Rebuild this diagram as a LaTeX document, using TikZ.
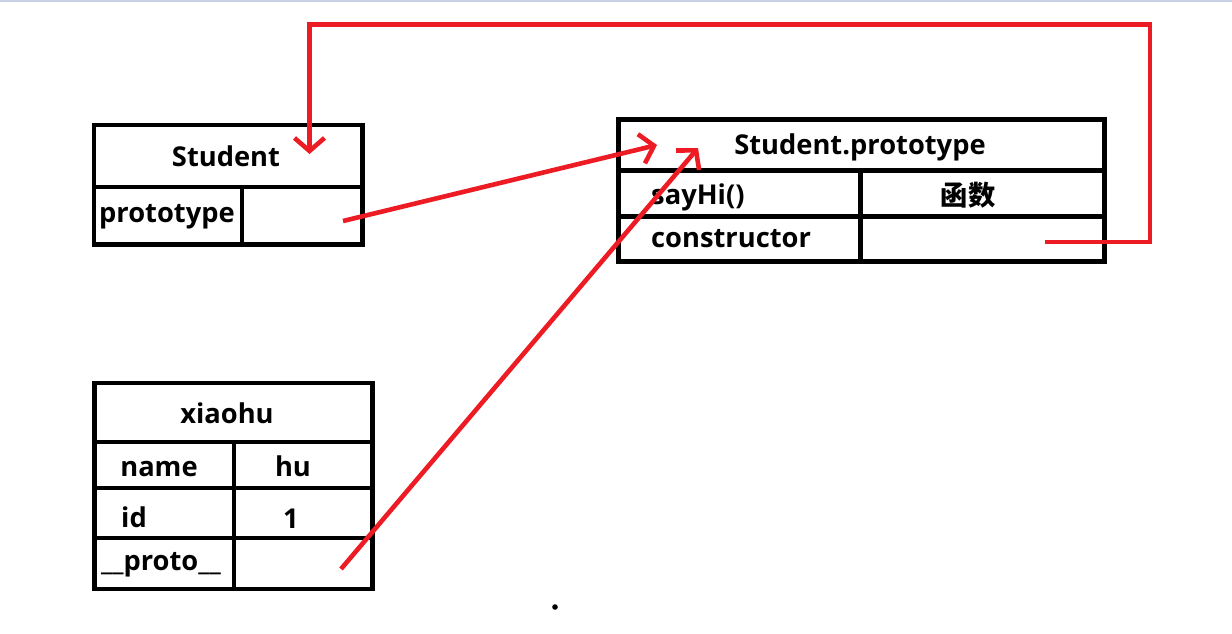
\documentclass[tikz,border=0pt]{standalone}
\usepackage{fontspec}
\setmainfont{Open Sans}
\newfontfamily\cjk{Noto Sans CJK SC}
\usetikzlibrary{arrows.meta}

\definecolor{paintred}{RGB}{237,28,36}
\definecolor{edgeblue}{RGB}{200,210,228}

\tikzset{
  cell/.style={font=\fontsize{27.3}{32}\selectfont\bfseries, inner sep=0pt, anchor=base},
  grid/.style={line width=4.2pt},
  link/.style={paintred, line width=4.6pt, -{Straight Barb[length=13pt,width=30pt]}},
}

\begin{document}
\begin{tikzpicture}[x=1pt, y=-1pt]
\useasboundingbox (0,0) rectangle (1232,633);
\fill[edgeblue] (0,0) rectangle (1232,2);

% Student
\draw[grid] (94,125) rectangle (362.5,244.5);
\draw[grid] (94,187) -- (362.5,187);
\draw[grid] (242,187) -- (242,244.5);
\node[cell] (student) at (226,166) {Student};
\node[cell] (stuProto) at (167,222) {prototype};
\coordinate (stuProtoVal) at (343,221);
\coordinate (stuIn) at (309.5,154);

% Student.prototype
\draw[grid] (618.5,119.5) rectangle (1104.5,261.5);
\draw[grid] (618.5,170.5) -- (1104.5,170.5);
\draw[grid] (618.5,216.5) -- (1104.5,216.5);
\draw[grid] (860.5,170.5) -- (860.5,261.5);
\node[cell] (proto) at (860,154) {Student.prototype};
\node[cell, anchor=base west] (sayHi) at (651,204) {sayHi()};
\node[cell] (fn) at (968,205) {\cjk 函数};
\node[cell, anchor=base west] (ctor) at (651,247) {constructor};
\coordinate (protoIn1) at (657,145);
\coordinate (protoIn2) at (698,148);
\coordinate (ctorVal) at (1045,242);
\coordinate (turn) at (1150,24.5);

% xiaohu
\draw[grid] (94.5,383) rectangle (372.5,589);
\draw[grid] (94.5,442) -- (372.5,442);
\draw[grid] (94.5,488) -- (372.5,488);
\draw[grid] (94.5,538) -- (372.5,538);
\draw[grid] (234,442) -- (234,589);
\node[cell] (xiaohu) at (227,423) {xiaohu};
\node[cell] (name) at (159,476) {name};
\node[cell] (hu) at (293,476) {hu};
\node[cell, anchor=base west] (id) at (121,527) {id};
\node[cell] (one) at (291,528) {1};
\node[cell] (xhProto) at (161,570) {\_\_proto\_\_};
\coordinate (xhProtoVal) at (341,569);

\fill (555,607) circle (2.8);

% links
\draw[link] (stuProtoVal) -- (protoIn1);
\draw[link] (xhProtoVal) -- (protoIn2);
\draw[link] (ctorVal) -| (turn) -| (stuIn);
\end{tikzpicture}
\end{document}
